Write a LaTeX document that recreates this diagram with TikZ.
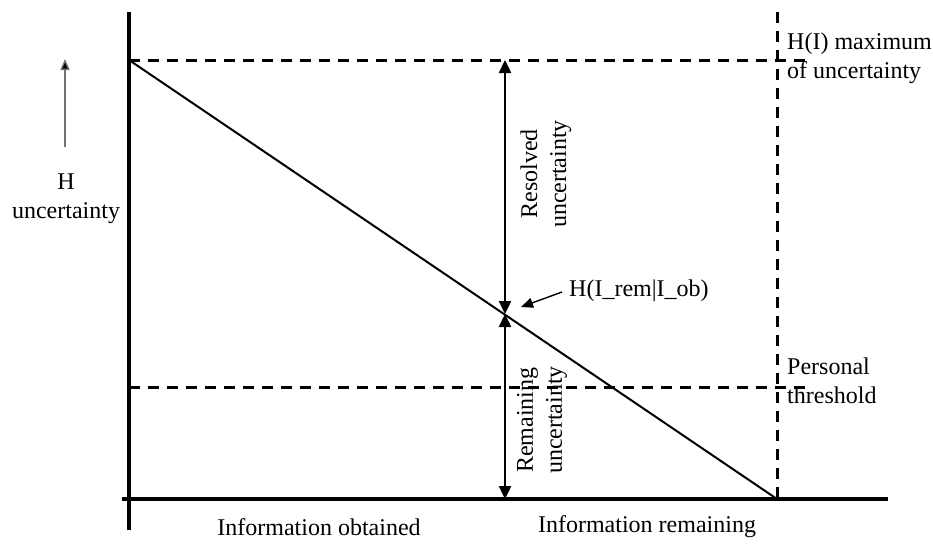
\documentclass[tikz,border=0pt]{standalone}
\usepackage{fontspec}
\setmainfont{Liberation Serif}
\usetikzlibrary{arrows.meta}
\tikzset{
  axis/.style={line width=4pt},
  dashline/.style={line width=3pt, dash pattern=on 11pt off 8pt},
  curve/.style={line width=2pt},
  dimarrow/.style={line width=2.4pt, {Triangle[width=12pt,length=13pt]}-{Triangle[width=12pt,length=13pt]}},
  pointer/.style={line width=1.4pt, -{Triangle[width=10pt,length=12pt]}},
  lbl/.style={inner sep=0pt, font=\fontsize{24}{29}\selectfont},
}
\begin{document}
\begin{tikzpicture}[x=1pt,y=-1pt]
\useasboundingbox (0,0) rectangle (933,543);
% coordinates
\coordinate (ytop) at (129,12);
\coordinate (ybot) at (129,530);
\coordinate (xl) at (122,499);
\coordinate (xr) at (888,499);
\coordinate (hmax) at (129,60);
\coordinate (hmaxr) at (810,60);
\coordinate (thl) at (129,387);
\coordinate (thr) at (810,387);
\coordinate (vtop) at (777,12);
\coordinate (vbot) at (777,499);
\coordinate (mid) at (505,314);
\coordinate (midtop) at (505,60);
\coordinate (midbot) at (505,499);
% dashed lines
\draw[dashline] (hmax) -- (hmaxr);
\draw[dashline] (thl) -- (thr);
\draw[dashline] (vtop) -- (vbot);
% axes
\draw[axis] (ytop) -- (ybot);
\draw[axis] (xl) -- (xr);
% diagonal
\draw[curve] (hmax) -- (vbot);
% dimension arrows
\draw[dimarrow] (midtop) -- (mid);
\draw[dimarrow] (mid) -- (midbot);
% labels
\node[lbl, rotate=90, align=center] (res) at (546,174) {Resolved\\uncertainty};
\node[lbl, rotate=90, align=center] (rem) at (542,420) {Remaining\\uncertainty};
\node[lbl, anchor=west] (hrem) at (569,291) {H(I\_rem|I\_ob)};
\coordinate (ptail) at (562,292);
\coordinate (ptip) at (521,307);
\draw[pointer] (ptail) -- (ptip);
\node[lbl, align=left, anchor=north west] (hmaxlbl) at (787,33) {H(I) maximum\\of uncertainty};
\node[lbl, align=left, anchor=north west] (thlbl) at (787,358) {Personal\\threshold};
\node[lbl, align=center] (hlbl) at (66,199) {H\\uncertainty};
\coordinate (hat) at (65,147);
\coordinate (hah) at (65,59);
\draw[line width=1.3pt, draw=black!55, -{Triangle[width=9pt,length=11pt,fill=black]}] (hat) -- (hah);
\node[lbl] (obt) at (319,527) {Information obtained};
\node[lbl] (rmn) at (647,527) {Information remaining};
\end{tikzpicture}
\end{document}
